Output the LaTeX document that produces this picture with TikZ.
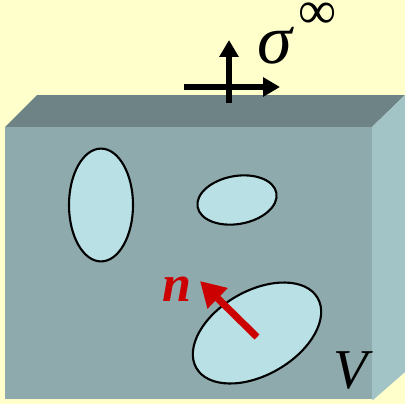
\documentclass[tikz,border=0pt]{standalone}
\usepackage{fontspec}
\setmainfont{Liberation Serif}
\usetikzlibrary{arrows.meta,positioning,shapes.geometric}
\definecolor{paper}{HTML}{FFFFCC}
\definecolor{boxfront}{HTML}{8FAAAD}
\definecolor{boxtop}{HTML}{6E8385}
\definecolor{boxside}{HTML}{A3C4C6}
\definecolor{hole}{HTML}{B9E0E4}
\definecolor{normalred}{HTML}{CC0000}

\begin{document}
\begin{tikzpicture}[
  x=0.025cm,y=-0.025cm,
  hl/.style={ellipse,draw=black,fill=hole,line width=1.5pt,inner sep=0pt},
  load/.style={line width=4.2pt,draw=black,-{Triangle[length=0.42cm,width=0.46cm]}},
  nrm/.style={line width=5pt,draw=normalred,-{Triangle[length=0.62cm,width=0.68cm]}},
  lbl/.style={inner sep=0pt,anchor=center}
]

% ---- background ----
\fill[paper] (0,0) rectangle (405,404);
\useasboundingbox (0,0) rectangle (405,404);

% ---- box ----
\fill[boxtop] (5,127) -- (37,95) -- (405,95) -- (372,127) -- cycle;
\fill[boxside] (372,127) -- (405,95) -- (405,372) -- (373,400) -- (372,399) -- cycle;
\fill[boxfront] (5,127) rectangle (372,399);

% ---- holes ----
\node[hl,minimum width=1.6cm,minimum height=2.82cm] (h1) at (101,205) {};
\node[hl,minimum width=2.0cm,minimum height=1.2cm,rotate=10] (h2) at (237,200) {};
\node[hl,minimum width=3.5cm,minimum height=2.1cm,rotate=30] (h3) at (257,333) {};

% ---- remote load ----
\coordinate (lh0) at (184,87);
\coordinate (lh1) at (280,87);
\coordinate (lv0) at (229,103);
\coordinate (lv1) at (229,40);
\draw[load] (lh0) -- (lh1);
\draw[load] (lv0) -- (lv1);
\node[lbl] (sig) at (275,46) {\fontsize{50}{54}\selectfont\itshape σ};
\node[lbl] (inf) at (318,16) {\fontsize{38}{40}\selectfont ∞};

% ---- normal ----
\coordinate (n0) at (257,337);
\coordinate (n1) at (200,281);
\draw[nrm] (n0) -- (n1);
\node[lbl,text=normalred] (nl) at (177,289) {\fontsize{37}{40}\selectfont\bfseries\itshape n};
\node[lbl] (vl) at (351,370) {\fontsize{40}{44}\selectfont\itshape V};

\end{tikzpicture}
\end{document}
